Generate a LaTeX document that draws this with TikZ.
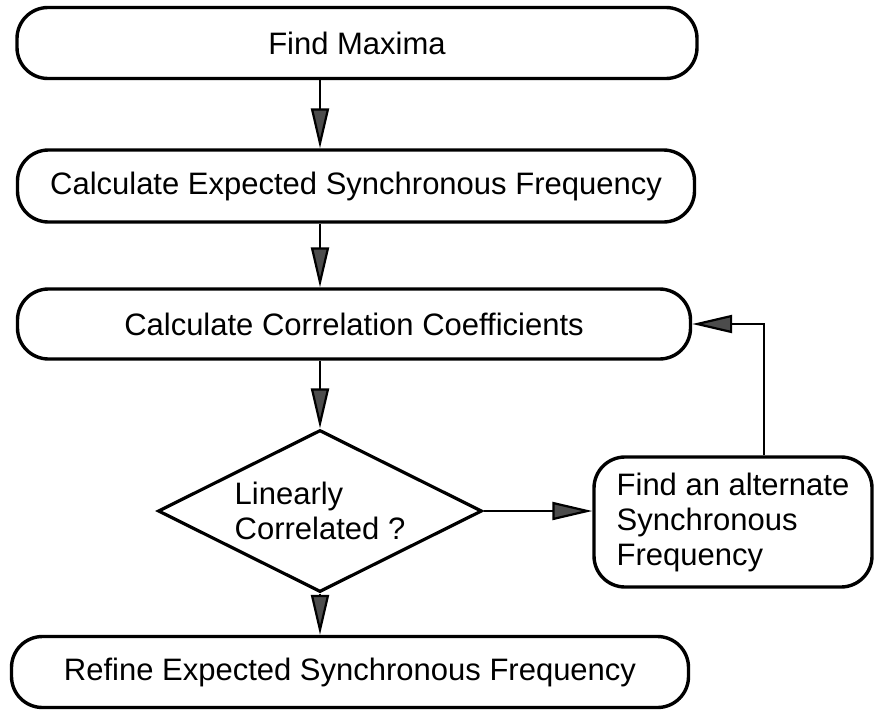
\documentclass[tikz,border=0pt]{standalone}
\usepackage{fontspec}
\setmainfont{Liberation Sans}
\usetikzlibrary{arrows.meta,shapes.geometric}
\tikzset{>={Triangle[length=40pt,width=18pt,fill=black!70]}}
\tikzset{stepbox/.style={draw,line width=3.4pt,rounded corners=31pt,inner sep=0pt},
  decide/.style={draw,diamond,aspect=2,line width=3.2pt,inner sep=0pt,
    minimum width=324pt,minimum height=162pt,align=left},
  flow/.style={->,line width=2.2pt}}

\begin{document}
\begin{tikzpicture}[x=1pt,y=-1pt,font=\fontsize{31}{35}\selectfont]
\useasboundingbox (0,0) rectangle (874,709);
\node[stepbox,minimum width=680pt,minimum height=71pt] (fm) at (357,43) {Find Maxima};
\node[stepbox,minimum width=677pt,minimum height=72pt] (ce) at (356,186) {Calculate Expected Synchronous Frequency};
\node[stepbox,minimum width=673pt,minimum height=70pt] (cc) at (354,324) {Calculate Correlation Coefficients};
\node[decide] (lc) at (320,511) {Linearly\\Correlated ?};
\node[stepbox,minimum width=278pt,minimum height=130pt,align=left] (alt) at (733,522) {Find an alternate\\Synchronous\\Frequency};
\node[stepbox,minimum width=677pt,minimum height=71pt] (rf) at (350,672) {Refine Expected Synchronous Frequency};
\coordinate (fb) at (764,0);
\draw[flow] (fm.south -| lc) -- (ce.north -| lc);
\draw[flow] (ce.south -| lc) -- (cc.north -| lc);
\draw[flow] (cc.south -| lc) -- (lc.north);
\draw[flow] (lc.east) -- (alt.west |- lc);
\draw[flow] (alt.north -| fb) |- (cc.east);
\draw[flow] (lc.south) -- (rf.north -| lc);
\end{tikzpicture}
\end{document}
